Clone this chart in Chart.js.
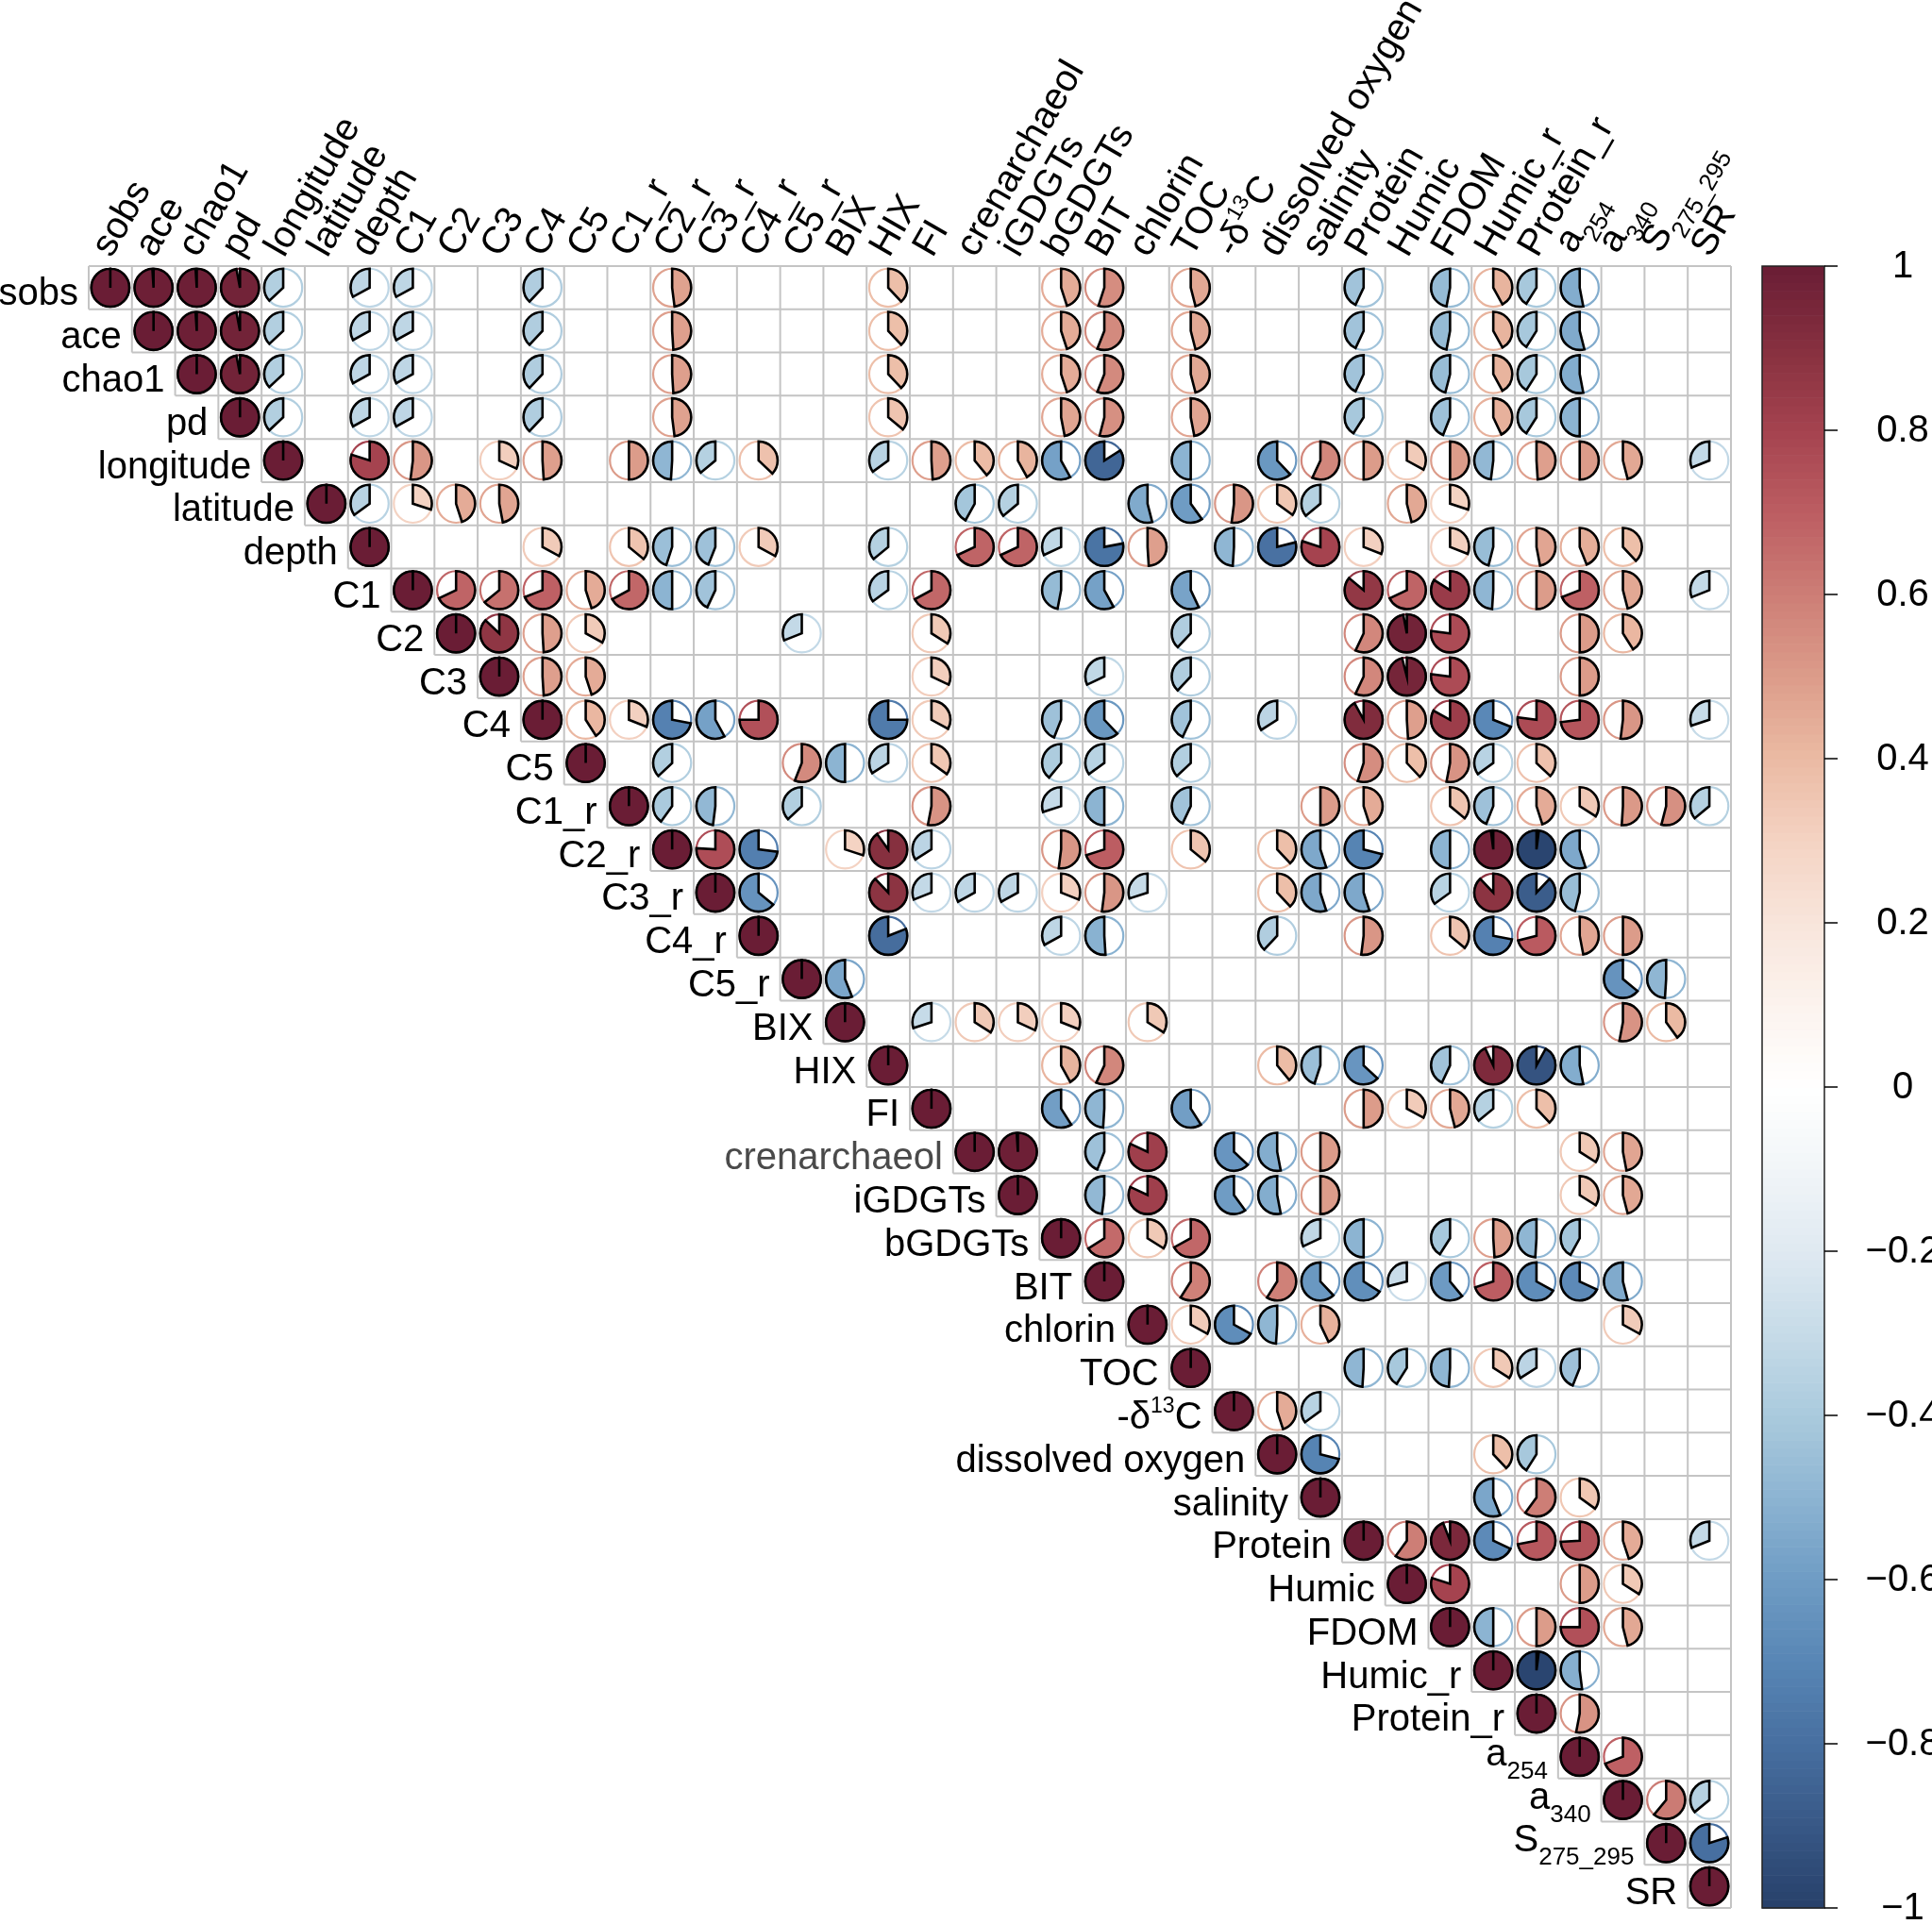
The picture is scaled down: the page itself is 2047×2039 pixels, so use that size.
<!DOCTYPE html>
<html><head><meta charset="utf-8">
<script src="https://cdn.jsdelivr.net/npm/chart.js@4"></script>
<style>html,body{margin:0;padding:0;background:#fff;}canvas{display:block;}</style>
</head><body>
<canvas id="c" width="2047" height="2039"></canvas>
<script>
const _ = null;
// variable labels (rows and columns); _{..} subscript, ^{..} superscript
const varLabels = ['sobs','ace','chao1','pd','longitude','latitude','depth','C1','C2','C3','C4','C5',
  'C1_r','C2_r','C3_r','C4_r','C5_r','BIX','HIX','FI','crenarchaeol','iGDGTs','bGDGTs','BIT','chlorin',
  'TOC','-δ^{13}C','dissolved oxygen','salinity','Protein','Humic','FDOM','Humic_r','Protein_r',
  'a_{254}','a_{340}','S_{275_295}','SR'];
// correlation rows: each row starts at its diagonal cell
const r_sobs   = [1,.99,.99,.97,-.37,_,-.33,-.33,_,_,-.38,_,_,.48,_,_,_,_,.38,_,_,_,.45,.55,_,.46,_,_,_,-.43,_,-.47,.42,-.41,-.53,_,_,_];
const r_ace    = [1,.99,.97,-.37,_,-.33,-.33,_,_,-.38,_,_,.49,_,_,_,_,.38,_,_,_,.45,.56,_,.46,_,_,_,-.43,_,-.47,.42,-.41,-.54];
const r_chao1  = [1,.97,-.37,_,-.33,-.33,_,_,-.38,_,_,.49,_,_,_,_,.38,_,_,_,.45,.56,_,.46,_,_,_,-.43,_,-.46,.42,-.41,-.53];
const r_pd     = [1,-.37,_,-.33,-.33,_,_,-.38,_,_,.48,_,_,_,_,.36,_,_,_,.47,.54,_,.47,_,_,_,-.41,_,-.44,.43,-.41,-.50];
const r_lon    = [1,_,.80,.52,_,.32,.49,_,.50,-.49,-.36,.37,_,_,-.35,.49,.39,.42,-.58,-.84,_,-.50,_,-.62,.57,.50,.33,.50,-.48,.49,.50,.46,_,-.31];
const r_lat    = [1,-.35,.30,.45,.47,_,_,_,_,_,_,_,_,_,_,-.42,-.36,_,_,-.54,-.60,.52,.35,-.36,_,.46,.30];
const r_depth  = [1,_,_,_,.33,_,.36,-.45,-.44,.33,_,_,-.36,_,.68,.68,-.32,-.78,.49,_,-.49,-.79,.80,.31,_,.31,-.46,.47,.44,.38];
const r_C1     = [1,.68,.64,.69,.45,.67,-.50,-.43,_,_,_,-.35,.67,_,_,-.47,-.58,_,-.57,_,_,_,.86,.68,.84,-.49,.50,.69,.46,_,-.31];
const r_C2     = [1,.87,.49,.33,_,_,_,_,-.31,_,_,.34,_,_,_,_,_,-.38,_,_,_,.57,.97,.77,_,_,.50,.41];
const r_C3     = [1,.49,.45,_,_,_,_,_,_,_,.32,_,_,_,-.32,_,-.38,_,_,_,.57,.96,.77,_,_,.50];
const r_C4     = [1,.41,.31,-.72,-.58,.75,_,_,-.75,.33,_,_,-.44,-.62,_,-.43,_,-.34,_,.92,.49,.83,-.69,.77,.73,.52,_,-.30];
const r_C5     = [1,_,-.37,_,_,.56,-.50,-.34,.35,_,_,-.39,-.35,_,-.37,_,_,_,.55,.38,.53,-.35,.37];
const r_C1r    = [1,-.40,-.48,_,-.37,_,_,.53,_,_,-.30,-.50,_,-.43,_,_,.50,.45,_,.36,-.44,.45,.34,.51,.54,-.36];
const r_C2r    = [1,.76,-.73,_,.30,.90,-.34,_,_,.52,.70,_,.36,_,.38,-.55,-.71,_,-.50,.98,-.98,-.55];
const r_C3r    = [1,-.64,_,_,.88,-.31,-.33,-.33,.31,.52,-.30,_,_,.38,-.55,-.55,_,-.35,.88,-.88,-.46];
const r_C4r    = [1,_,_,-.81,_,_,_,-.33,-.51,_,_,_,-.38,_,.52,_,.36,-.72,.71,.47,.50];
const r_C5r    = [1,-.56,_,_,_,_,_,_,_,_,_,_,_,_,_,_,_,_,_,-.64,-.49];
const r_BIX    = [1,_,-.30,.34,.32,.31,_,.34,_,_,_,_,_,_,_,_,_,_,.53,.40];
const r_HIX    = [1,_,_,_,.42,.57,_,_,_,.39,-.45,-.63,_,-.43,.93,-.92,-.53];
const r_FI     = [1,_,_,-.59,-.49,_,-.59,_,_,_,.50,.33,.46,-.36,.38];
const r_cren   = [1,.99,_,-.44,.82,_,-.63,-.53,.50,_,_,_,_,_,.34,.47];
const r_iGDGT  = [1,_,-.48,.82,_,-.60,-.53,.50,_,_,_,_,_,.34,.46];
const r_bGDGT  = [1,.66,.34,.67,_,_,-.32,-.50,_,-.41,.49,-.49,-.42];
const r_BIT    = [1,_,.59,_,.59,-.62,-.66,-.29,-.61,.70,-.67,-.68,-.54];
const r_chlor  = [1,.33,-.67,-.49,.43,_,_,_,_,_,_,.33];
const r_TOC    = [1,_,_,_,-.49,-.41,-.49,.34,-.34,-.44];
const r_d13C   = [1,.45,-.35];
const r_DO     = [1,-.71,_,_,_,.38,-.41];
const r_sal    = [1,_,_,_,-.56,.60,.35];
const r_Prot   = [1,.60,.94,-.68,.72,.74,.45,_,-.31];
const r_Hum    = [1,.80,_,_,.50,.34];
const r_FDOM   = [1,-.50,.50,.75,.46];
const r_Humr   = [1,-.98,-.52];
const r_Protr  = [1,.53];
const r_a254   = [1,.69];
const r_a340   = [1,.61,-.36];
const r_S      = [1,-.80];
const r_SR     = [1];
const corrRows = [r_sobs,r_ace,r_chao1,r_pd,r_lon,r_lat,r_depth,r_C1,r_C2,r_C3,r_C4,r_C5,r_C1r,r_C2r,r_C3r,
  r_C4r,r_C5r,r_BIX,r_HIX,r_FI,r_cren,r_iGDGT,r_bGDGT,r_BIT,r_chlor,r_TOC,r_d13C,r_DO,r_sal,r_Prot,r_Hum,
  r_FDOM,r_Humr,r_Protr,r_a254,r_a340,r_S,r_SR];
const cbTicks = [1,0.8,0.6,0.4,0.2,0,-0.2,-0.4,-0.6,-0.8,-1];
const cbTickLabels = ['1','0.8','0.6','0.4','0.2','0','\u22120.2','\u22120.4','\u22120.6','\u22120.8','\u22121'];
// palette stops for -1, -0.9, ..., 1
const paletteStops = ['#27406a','#385886','#476fa0','#5886b5','#6f9cc4','#8cb4d2','#aacadd','#c6dbe8','#dfe9f1','#f1f5f8',
  '#ffffff','#fcf3ee','#f8e5db','#f4d3c3','#ebbaa3','#dc9c8a','#cd7e76','#bc5d62','#a5434f','#86303f','#6a1d35'];

function hex2rgb(h){return [parseInt(h.slice(1,3),16),parseInt(h.slice(3,5),16),parseInt(h.slice(5,7),16)];}
const stopRGB = paletteStops.map(hex2rgb);
function colorFor(v){
  const t = Math.max(0, Math.min(20, (v + 1) * 10));
  const i = Math.min(19, Math.floor(t)), f = t - i;
  const a = stopRGB[i], b = stopRGB[i+1];
  return 'rgb(' + a.map((c,k)=>Math.round(c + (b[k]-c)*f)).join(',') + ')';
}

const points = [];
corrRows.forEach((row, ri) => {
  row.forEach((v, k) => { if (v !== null && v !== undefined) points.push({x: ri + 1 + k, y: ri + 1, v: v}); });
});

const FAM = '"Liberation Sans", Arial, Helvetica, sans-serif';
const MAIN = 40, SUB = 26, SUP = 23;
function parseLabel(s){
  const parts=[]; const re=/([_^])\{([^}]*)\}/g; let last=0, m;
  while((m=re.exec(s))){ if(m.index>last) parts.push({t:s.slice(last,m.index),k:'n'});
    parts.push({t:m[2],k:m[1]==='_'?'sub':'sup'}); last=re.lastIndex; }
  if(last<s.length) parts.push({t:s.slice(last),k:'n'});
  return parts;
}
function partFont(k){ return (k==='n'?MAIN:(k==='sub'?SUB:SUP)) + 'px ' + FAM; }
function labelWidth(ctx, parts){ let w=0; parts.forEach(p=>{ctx.font=partFont(p.k); w+=ctx.measureText(p.t).width;}); return w; }
function drawParts(ctx, parts, x, y){
  let cx = x;
  parts.forEach(p=>{ ctx.font = partFont(p.k);
    const dy = p.k==='sub' ? 14 : (p.k==='sup' ? -17 : 0);
    ctx.fillText(p.t, cx, y + dy); cx += ctx.measureText(p.t).width; });
}

const corrPlugin = {
  id: 'corrpie',
  beforeDatasetsDraw(chart){
    const ctx = chart.ctx, xs = chart.scales.x, ys = chart.scales.y, n = varLabels.length;
    ctx.save(); ctx.strokeStyle = '#c4c4c4'; ctx.lineWidth = 2;
    ctx.beginPath();
    for (let k = 0; k <= n; k++) {
      const y = ys.getPixelForValue(k + 0.5);
      const c0 = Math.max(k, 1);
      ctx.moveTo(xs.getPixelForValue(c0 - 0.5), y); ctx.lineTo(xs.getPixelForValue(n + 0.5), y);
    }
    for (let m = 0; m <= n; m++) {
      const x = xs.getPixelForValue(m + 0.5);
      const rEnd = Math.min(m + 1, n);
      ctx.moveTo(x, ys.getPixelForValue(0.5)); ctx.lineTo(x, ys.getPixelForValue(rEnd + 0.5));
    }
    ctx.stroke(); ctx.restore();
  },
  afterDatasetsDraw(chart){
    const ctx = chart.ctx, xs = chart.scales.x, ys = chart.scales.y, cb = chart.scales.cb;
    const meta = chart.getDatasetMeta(0), data = chart.data.datasets[0].data;
    const cell = Math.abs(xs.getPixelForValue(2) - xs.getPixelForValue(1));
    const R = cell * 0.44;
    ctx.save();
    ctx.lineJoin = 'miter';
    meta.data.forEach((el, i) => {
      const v = data[i].v, cx = el.x, cy = el.y, col = colorFor(v);
      ctx.lineWidth = 2.2; ctx.strokeStyle = col;
      ctx.beginPath(); ctx.arc(cx, cy, R, 0, Math.PI * 2); ctx.stroke();
      const a0 = -Math.PI / 2, sw = 2 * Math.PI * Math.abs(v);
      ctx.beginPath(); ctx.moveTo(cx, cy); ctx.lineTo(cx, cy - R);
      if (v >= 0) ctx.arc(cx, cy, R, a0, a0 + sw, false); else ctx.arc(cx, cy, R, a0, a0 - sw, true);
      ctx.closePath(); ctx.fillStyle = col; ctx.fill();
      ctx.lineWidth = 2.6; ctx.strokeStyle = '#000'; ctx.stroke();
    });
    // row labels
    ctx.textAlign = 'left'; ctx.textBaseline = 'alphabetic';
    varLabels.forEach((lab, i) => {
      const parts = parseLabel(lab);
      const hasSub = parts.some(p => p.k === 'sub');
      const w = labelWidth(ctx, parts);
      const xr = xs.getPixelForValue(i + 0.5) - 11;
      const yb = ys.getPixelForValue(i + 1) + (hasSub ? 9 : 18.5);
      ctx.fillStyle = lab === 'crenarchaeol' ? '#4a4a4a' : '#000';
      drawParts(ctx, parts, xr - w, yb);
    });
    // column labels
    const top = ys.getPixelForValue(0.5);
    ctx.fillStyle = '#000';
    varLabels.forEach((lab, j) => {
      const parts = parseLabel(lab);
      const hasSub = parts.some(p => p.k === 'sub');
      ctx.save();
      ctx.translate(xs.getPixelForValue(j + 1) + 1, top - 8);
      ctx.rotate(-Math.PI / 3);
      drawParts(ctx, parts, 0, hasSub ? -8 : 0);
      ctx.restore();
    });
    // colour bar
    const x0 = 1867, x1 = 1933;
    const steps = 200;
    for (let s = 0; s < steps; s++) {
      const va = -1 + 2 * s / steps, vb = -1 + 2 * (s + 1) / steps;
      const ya = cb.getPixelForValue(va), yb = cb.getPixelForValue(vb);
      ctx.fillStyle = colorFor((va + vb) / 2);
      ctx.fillRect(x0, yb, x1 - x0, ya - yb + 0.6);
    }
    ctx.strokeStyle = '#222'; ctx.lineWidth = 1.5;
    ctx.strokeRect(x0, cb.getPixelForValue(1), x1 - x0, cb.getPixelForValue(-1) - cb.getPixelForValue(1));
    ctx.lineWidth = 1.5; ctx.strokeStyle = '#000';
    ctx.font = '40px ' + FAM; ctx.textAlign = 'center'; ctx.textBaseline = 'middle';
    cbTicks.forEach((t, k) => {
      const y = cb.getPixelForValue(t);
      ctx.beginPath(); ctx.moveTo(x1, y); ctx.lineTo(x1 + 14, y); ctx.stroke();
      ctx.fillStyle = '#000';
      ctx.fillText(cbTickLabels[k], 2016, y + 1);
    });
    ctx.restore();
  }
};

new Chart(document.getElementById('c'), {
  type: 'scatter',
  data: { datasets: [{ data: points, pointRadius: 0, pointHoverRadius: 0 }] },
  options: {
    responsive: false, animation: false, devicePixelRatio: 1,
    layout: { padding: { left: 94, right: 213, top: 282, bottom: 17 } },
    plugins: { legend: { display: false }, tooltip: { enabled: false } },
    events: [],
    scales: {
      x: { type: 'linear', min: 0.5, max: 38.5, display: false },
      y: { type: 'linear', min: 0.5, max: 38.5, reverse: true, display: false },
      cb: { type: 'linear', axis: 'y', min: -1, max: 1, display: false, position: 'right' }
    }
  },
  plugins: [corrPlugin]
});
</script>
</body></html>
